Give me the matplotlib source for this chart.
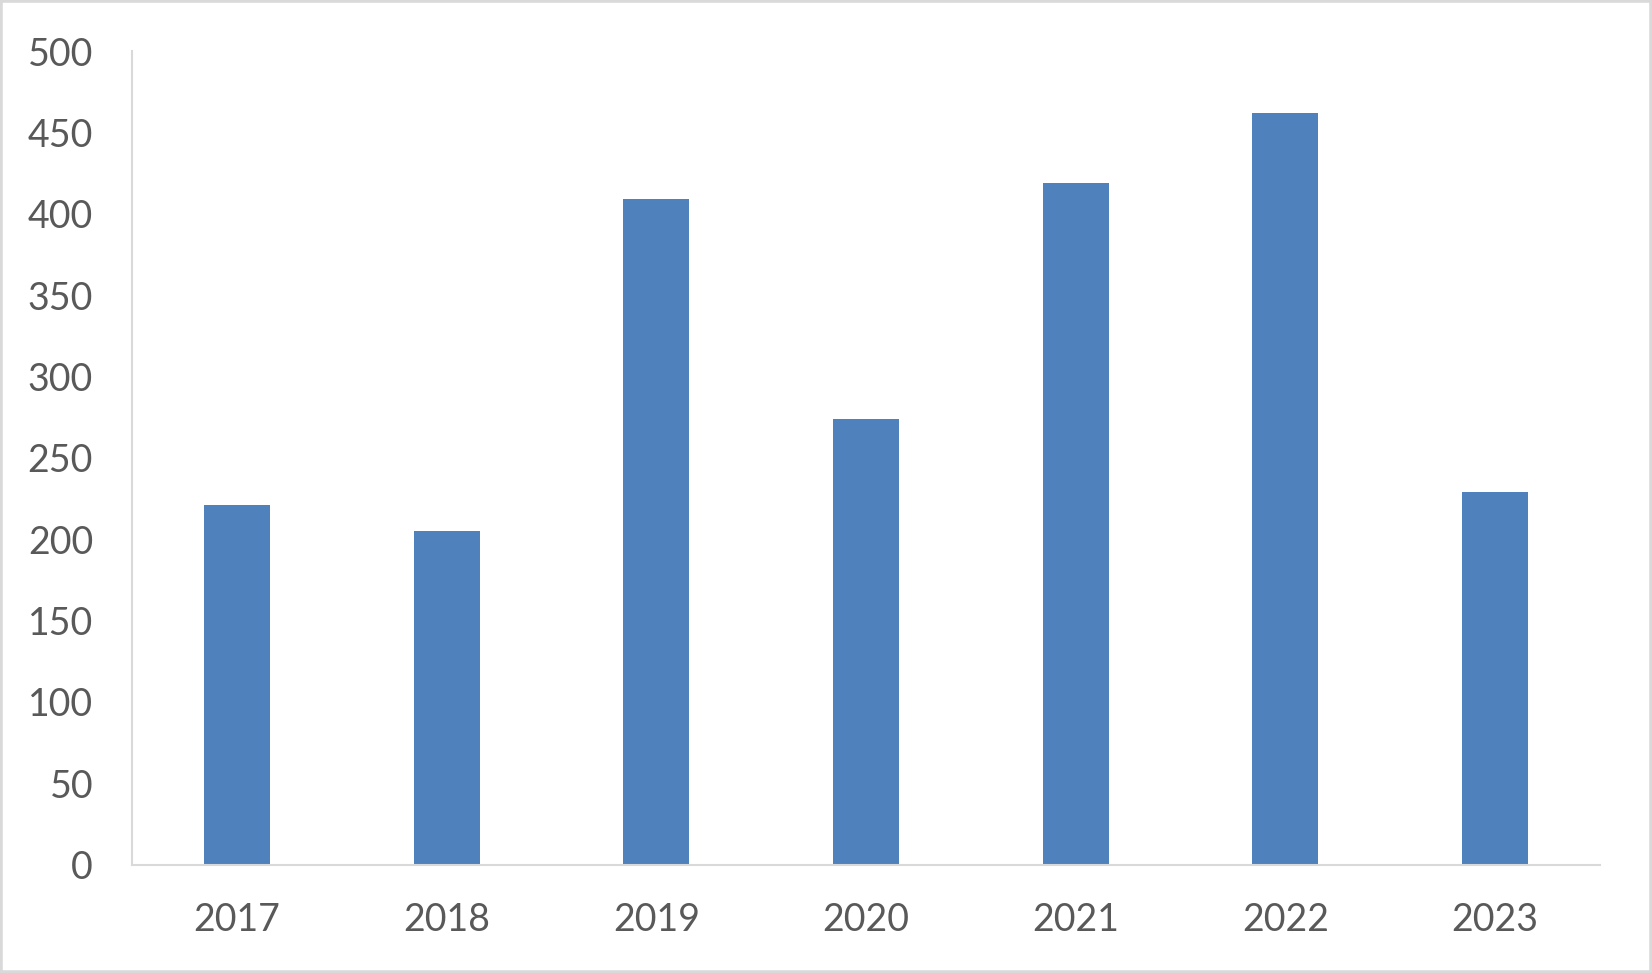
import matplotlib
matplotlib.use("Agg")
import matplotlib.pyplot as plt
from matplotlib.patches import Rectangle

years = ["2017", "2018", "2019", "2020", "2021", "2022", "2023"]
values = [221, 205, 409, 274, 419, 462, 229]
yticks = [0, 50, 100, 150, 200, 250, 300, 350, 400, 450, 500]

plt.rcParams['font.family'] = ['Lato', 'DejaVu Sans']

W, H = 1652, 973
fig = plt.figure(figsize=(W / 100, H / 100), dpi=100)
ax = fig.add_axes([132 / W, (H - 864.5) / H, (1600 - 132) / W, (864.5 - 51) / H])

x = list(range(len(years)))
ax.bar(x, values, width=0.315, color='#4F81BD', zorder=2)
ax.set_xlim(-0.5, len(years) - 0.5)
ax.set_ylim(0, 500)
ax.set_xticks(x)
ax.set_xticklabels(years)
ax.set_yticks(yticks)
ax.set_yticklabels([str(v) for v in yticks])

for s in ['top', 'right']:
    ax.spines[s].set_visible(False)
for s in ['left', 'bottom']:
    ax.spines[s].set_color('#D9D9D9')
    ax.spines[s].set_linewidth(1.5)
ax.tick_params(axis='both', length=0, labelsize=27, labelcolor='#595959')
ax.tick_params(axis='y', pad=28)
ax.tick_params(axis='x', pad=27)

fig.patches.append(Rectangle((0, 0), 1, 1, transform=fig.transFigure,
                             fill=False, edgecolor='#D9D9D9', linewidth=4))

fig.savefig('out.png', dpi=100)
